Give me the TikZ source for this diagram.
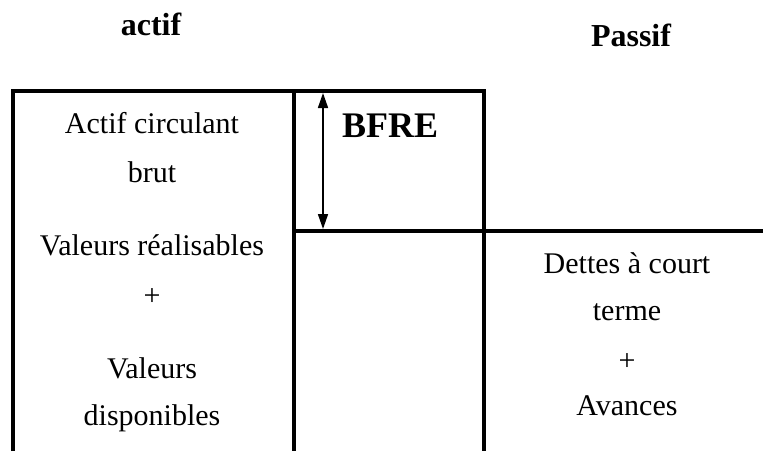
\documentclass[tikz,border=0pt]{standalone}
\usepackage{fontspec}
\setmainfont{Liberation Serif}
\usetikzlibrary{arrows.meta}
\tikzset{
  cadre/.style={line width=2pt, line join=miter},
  fleche/.style={line width=0.8pt, {Triangle[width=5pt,length=7.5pt]}-{Triangle[width=5pt,length=7.5pt]}},
  libelle/.style={anchor=base, inner sep=0pt, font=\fontsize{15}{18}\selectfont},
  titre/.style={anchor=base, inner sep=0pt, font=\fontsize{16}{19}\selectfont\bfseries},
  bfre/.style={anchor=base, inner sep=0pt, font=\fontsize{18}{21}\selectfont\bfseries}
}
\begin{document}
\begin{tikzpicture}[x=0.5pt,y=-0.5pt]
      \useasboundingbox (0,0) rectangle (763,451);
      \coordinate (bg) at (13,451);
      \coordinate (hg) at (13,91);
      \coordinate (hd) at (484,91);
      \coordinate (bd) at (484,451);
      \coordinate (hm) at (294,91);
      \coordinate (bm) at (294,451);
      \coordinate (mm) at (294,231);
      \coordinate (md) at (763,231);
      \coordinate (fh) at (323,93);
      \coordinate (fb) at (323,229);
      \draw
        (151,35) node[titre] (actif){actif}
        (631,46) node[titre] (passif){Passif}
        (390,137) node[bfre] (besoin){BFRE};
      \draw
        (152,133) node[libelle] (ac1){Actif circulant}
        (152,182) node[libelle] (ac2){brut}
        (152,255) node[libelle] (vr){Valeurs réalisables}
        (152,305) node[libelle] (plus1){+}
        (152,378) node[libelle] (vd1){Valeurs}
        (152,425) node[libelle] (vd2){disponibles};
      \draw
        (627,273) node[libelle] (dc1){Dettes à court}
        (627,320) node[libelle] (dc2){terme}
        (627,370) node[libelle] (plus2){+}
        (627,415) node[libelle] (av){Avances};
      \begin{scope}[cadre]
        \draw (bg) -- (hg) -- (hd) -- (bd);
        \draw (hm) -- (bm);
        \draw (mm) -- (md);
      \end{scope}
      \draw[fleche] (fh) -- (fb);
    \end{tikzpicture}
\end{document}
